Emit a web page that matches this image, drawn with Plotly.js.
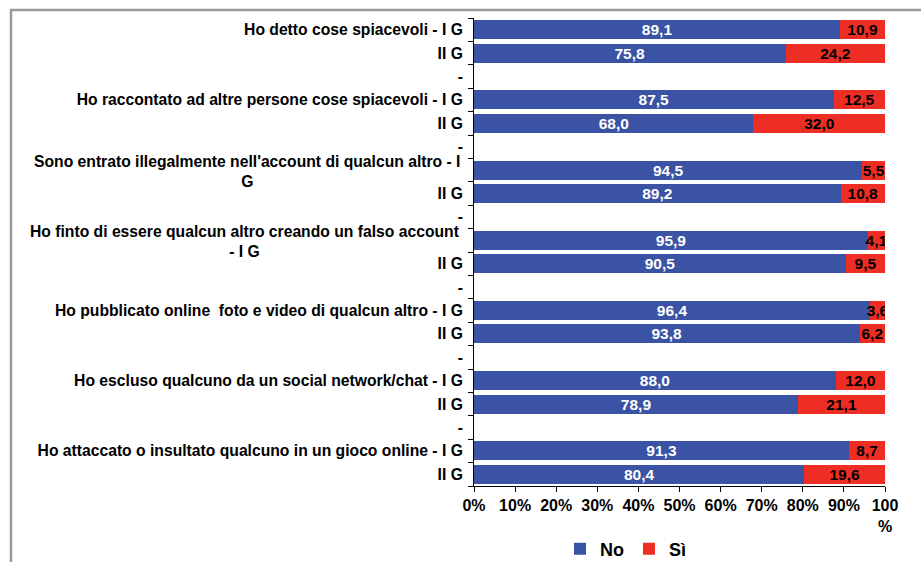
<!DOCTYPE html>
<html>
<head>
<meta charset="utf-8">
<script src="https://cdn.plot.ly/plotly-3.0.1.min.js"></script>
<style>html,body{margin:0;padding:0;background:#fff;}#chart{width:921px;height:562px;}</style>
</head>
<body>
<div id="chart"></div>
<script>
// Row labels (top to bottom), including the separator rows "-"
const rowLabels = [
  "Ho detto cose spiacevoli - I G", "II G", "-",
  "Ho raccontato ad altre persone cose spiacevoli - I G", "II G", "-",
  "Sono entrato illegalmente nell'account di qualcun altro - I<br>G", "II G", "-",
  "Ho finto di essere qualcun altro creando un falso account<br>- I G", "II G", "-",
  "Ho pubblicato online  foto e video di qualcun altro - I G", "II G", "-",
  "Ho escluso qualcuno da un social network/chat - I G", "II G", "-",
  "Ho attaccato o insultato qualcuno in un gioco online - I G", "II G"
];
// Values per row (null for separator rows)
const noValues = [89.1, 75.8, null, 87.5, 68.0, null, 94.5, 89.2, null, 95.9, 90.5, null, 96.4, 93.8, null, 88.0, 78.9, null, 91.3, 80.4];
const siValues = [10.9, 24.2, null, 12.5, 32.0, null, 5.5, 10.8, null, 4.1, 9.5, null, 3.6, 6.2, null, 12.0, 21.1, null, 8.7, 19.6];
const xTickVals = [0, 10, 20, 30, 40, 50, 60, 70, 80, 90, 100];
const xTickText = ["0%", "10%", "20%", "30%", "40%", "50%", "60%", "70%", "80%", "90%", "100<br>%"];

const rowIdx = rowLabels.map((_, i) => i);
const FONT = "Liberation Sans, Arial, sans-serif";

const traces = [
  {
    type: 'bar', orientation: 'h', name: 'No',
    x: noValues, y: rowIdx,
    marker: {color: '#3A53A4'},
    texttemplate: '%{x:.1f}', textposition: 'inside', insidetextanchor: 'middle',
    constraintext: 'none', textangle: 0,
    insidetextfont: {family: FONT, size: 15.5, color: '#ffffff', weight: 'bold'},
    hoverinfo: 'x+name'
  },
  {
    type: 'bar', orientation: 'h', name: 'Sì',
    x: siValues, y: rowIdx,
    marker: {color: '#EE2E24'},
    texttemplate: '%{x:.1f}', textposition: 'inside', insidetextanchor: 'middle',
    constraintext: 'none', textangle: 0,
    insidetextfont: {family: FONT, size: 15.5, color: '#000000', weight: 'bold'},
    hoverinfo: 'x+name'
  }
];

const annotations = [];
rowLabels.forEach((t, i) => {
  if (t.includes('<br>')) {
    annotations.push({
      text: t, xref: 'paper', yref: 'y', x: 0, y: i,
      xanchor: 'right', yanchor: 'middle', align: 'center', xshift: -12, yshift: -1,
      showarrow: false,
      font: {family: FONT, size: 15.7, color: '#000', weight: 'bold'}
    });
  }
});

const layout = {
  width: 921, height: 562,
  margin: {l: 474, r: 36, t: 18, b: 76},
  paper_bgcolor: '#ffffff', plot_bgcolor: '#ffffff',
  barmode: 'stack', bargap: 0.19,
  separators: ',.',
  showlegend: true,
  legend: {
    orientation: 'h', xref: 'container', yref: 'container',
    x: 560 / 921, y: 13 / 562, xanchor: 'left', yanchor: 'middle',
    font: {family: FONT, size: 18, color: '#000', weight: 'bold'}, traceorder: 'normal',
    itemwidth: 30
  },
  xaxis: {
    range: [0, 100], tickmode: 'array', tickvals: xTickVals, ticktext: xTickText,
    showgrid: false, zeroline: false, showline: true, linecolor: '#000', linewidth: 1,
    ticks: 'outside', ticklen: 5, tickcolor: '#000', automargin: false,
    tickfont: {family: FONT, size: 16, color: '#000', weight: 'bold'},
    fixedrange: true
  },
  yaxis: {
    range: [rowLabels.length - 0.5, -0.5],
    tickmode: 'array', tickvals: rowIdx,
    ticktext: rowLabels.map(t => t.includes('<br>') ? '' : t),
    ticks: '', showgrid: false, zeroline: false, automargin: false,
    showline: true, linecolor: '#000', linewidth: 1,
    tickfont: {family: FONT, size: 15.7, color: '#000', weight: 'bold'},
    ticklabelstandoff: 7,
    minor: {tickmode: 'linear', tick0: -0.5, dtick: 1, ticks: 'outside', ticklen: 5, tickcolor: '#000', showgrid: false},
    fixedrange: true
  },
  annotations: annotations,
  shapes: [{
    type: 'rect', xref: 'paper', yref: 'paper',
    x0: (11 - 474) / 411, x1: (930 - 474) / 411,
    y0: (486 - 575) / 468, y1: (486 - 10) / 468,
    line: {color: '#9a9a9a', width: 2.5}, fillcolor: 'rgba(0,0,0,0)', layer: 'below'
  }]
};

Plotly.newPlot('chart', traces, layout, {displayModeBar: false, staticPlot: true});
</script>
</body>
</html>
